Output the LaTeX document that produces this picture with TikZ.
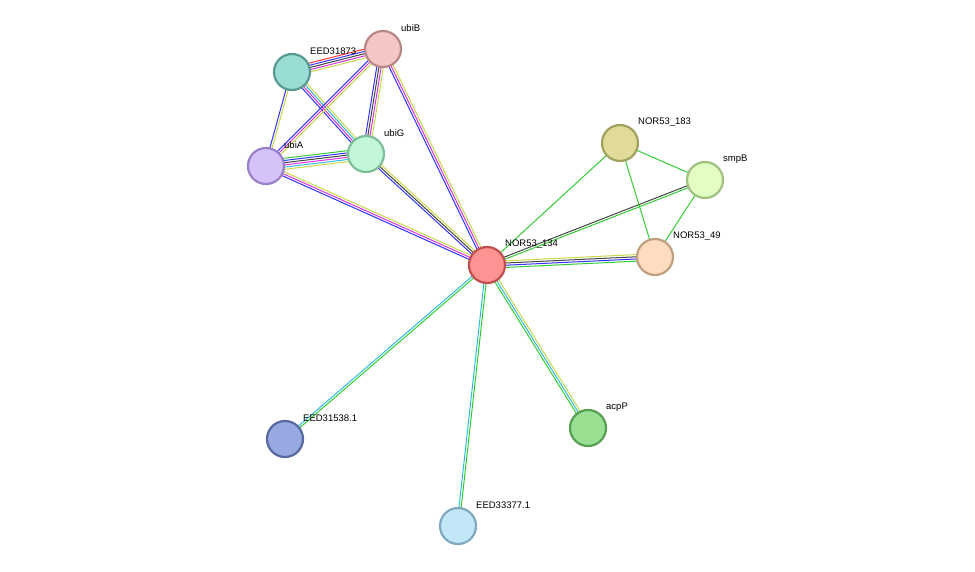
\documentclass[tikz,border=0pt]{standalone}
\usepackage{fontspec}
\setmainfont{Liberation Sans}
\usetikzlibrary{calc}
\definecolor{xg}{HTML}{33CC33}
\definecolor{xb}{HTML}{3333FF}
\definecolor{xm}{HTML}{DD33DD}
\definecolor{xk}{HTML}{444444}
\definecolor{xy}{HTML}{C8D848}
\definecolor{xc}{HTML}{33BBDD}
\definecolor{xr}{HTML}{FF3333}
\tikzset{prot/.style={circle,minimum size=36pt,inner sep=0pt,line width=2.2pt},
 lab/.style={font=\fontsize{9.5}{10}\selectfont,anchor=west,inner sep=0pt}}
\newcommand{\ml}[3]{%
 \foreach \c [count=\i] in {#3} {\xdef\nn{\i}}%
 \foreach \c [count=\i] in {#3} {%
  \pgfmathsetmacro{\o}{(\i-(\nn+1)/2)*2.2}%
  \draw[draw=\c,line width=1pt] ($(#1)!\o pt!90:(#2)$) -- ($(#2)!\o pt!-90:(#1)$);}}
\newcommand{\pn}[5]{\definecolor{f#1}{HTML}{#4}\definecolor{d#1}{HTML}{#5}%
 \node[prot,fill=f#1,draw=d#1] (#1) at (#2) {};
 \node[lab] at ($(#2)+(18,-21)$) {#3};}
\begin{document}
\begin{tikzpicture}[x=1pt,y=-1pt]
\useasboundingbox (0,0) rectangle (975,572);
\coordinate (eed) at (292,72);
\coordinate (ubiB) at (383,49);
\coordinate (ubiA) at (266,166);
\coordinate (ubiG) at (366,154);
\coordinate (n134) at (487,265);
\coordinate (n183) at (620,143);
\coordinate (smpB) at (705,180);
\coordinate (n49) at (655,257);
\coordinate (e38) at (285,439);
\coordinate (e33) at (458,526);
\coordinate (acpP) at (588,428);
\ml{eed}{ubiB}{xy,xm,xk,xb,xr}
\ml{eed}{ubiA}{xb,xy}
\ml{eed}{ubiG}{xb,xm,xc,xy}
\ml{ubiB}{ubiA}{xb,xm,xy}
\ml{ubiB}{ubiG}{xb,xk,xm,xy}
\ml{ubiB}{n134}{xb,xm,xy}
\ml{ubiA}{ubiG}{xy,xc,xm,xk,xb,xg}
\ml{ubiA}{n134}{xb,xm,xy}
\ml{ubiG}{n134}{xb,xk,xy}
\ml{n134}{n183}{xg}
\ml{n134}{smpB}{xg,xk}
\ml{n134}{n49}{xg,xb,xk,xy}
\ml{n183}{smpB}{xg}
\ml{n183}{n49}{xg}
\ml{smpB}{n49}{xg}
\ml{n134}{e38}{xc,xg}
\ml{n134}{e33}{xc,xg}
\ml{n134}{acpP}{xg,xc,xy}
\pn{EED}{eed}{EED31873}{99DDD5}{5A9A92}
\pn{UB}{ubiB}{ubiB}{F6C6C6}{B88888}
\pn{UA}{ubiA}{ubiA}{D4C2F8}{9A80C8}
\pn{UG}{ubiG}{ubiG}{C2F8D8}{80C098}
\pn{N134}{n134}{NOR53\_134}{FF9292}{C05050}
\pn{N183}{n183}{NOR53\_183}{E0DC98}{A0A060}
\pn{SB}{smpB}{smpB}{E2FEC2}{A0C080}
\pn{N49}{n49}{NOR53\_49}{FFDCC0}{C0A080}
\pn{E38}{e38}{EED31538.1}{98A8E0}{5868A0}
\pn{E33}{e33}{EED33377.1}{C2E8F8}{80A8C0}
\pn{AC}{acpP}{acpP}{9ADF92}{58A050}
\end{tikzpicture}
\end{document}
